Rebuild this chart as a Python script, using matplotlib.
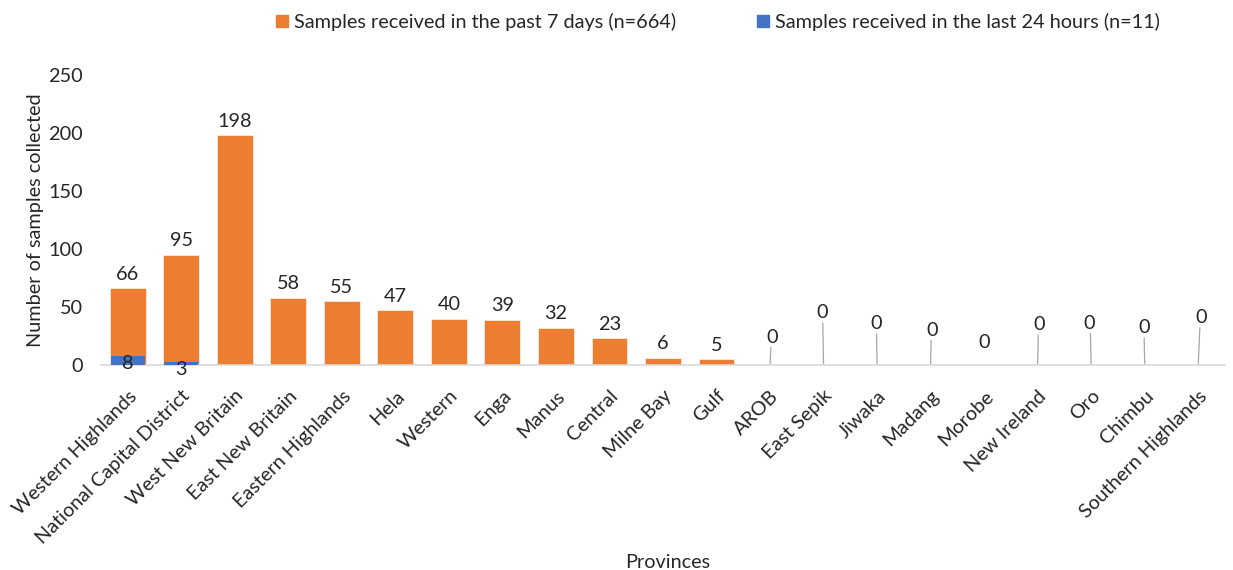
import matplotlib
matplotlib.use("Agg")
import matplotlib.pyplot as plt
from matplotlib.lines import Line2D
from matplotlib.transforms import ScaledTranslation

provinces = ["Western Highlands", "National Capital District", "West New Britain",
             "East New Britain", "Eastern Highlands", "Hela", "Western", "Enga",
             "Manus", "Central", "Milne Bay", "Gulf", "AROB", "East Sepik", "Jiwaka",
             "Madang", "Morobe", "New Ireland", "Oro", "Chimbu", "Southern Highlands"]
past_7_days = [66, 95, 198, 58, 55, 47, 40, 39, 32, 23, 6, 5, 0, 0, 0, 0, 0, 0, 0, 0, 0]
last_24_hours = [8, 3, 0, 0, 0, 0, 0, 0, 0, 0, 0, 0, 0, 0, 0, 0, 0, 0, 0, 0, 0]
legend_labels = ["Samples received in the past 7 days (n=664)",
                 "Samples received in the last 24 hours (n=11)"]

# layout of zero-value labels (Excel auto-placement): (dx in categories, label height in data units, leader?)
zero_label_layout = {12: (0.03, 24, True), 13: (-0.03, 45, True), 14: (-0.02, 35.5, True),
                     15: (0.02, 30, True), 16: (0.0, 19, False), 17: (0.02, 34.5, True),
                     18: (-0.03, 36, True), 19: (-0.02, 32, True), 20: (0.06, 41, True)}

ORANGE = "#ED7D31"
BLUE = "#4472C4"
TXT = "#262626"

plt.rcParams['font.family'] = ['Lato', 'DejaVu Sans']

fig = plt.figure(figsize=(12.33, 5.70), dpi=100)
ax = fig.add_axes([101/1233, 1-365/570, (1225-101)/1233, 290/570])

x = list(range(len(provinces)))
w = 0.67
ax.bar(x, past_7_days, width=w, color=ORANGE, edgecolor="white", linewidth=0.4, zorder=2)
ax.bar(x, last_24_hours, width=w * 0.95, color=BLUE, zorder=3)

fs = 14.3
for i, v in enumerate(past_7_days):
    if v > 0:
        ax.annotate(str(v), (i, v), xytext=(0, 4), textcoords="offset points",
                    ha="center", va="bottom", fontsize=fs, color=TXT)
    else:
        dx, h, leader = zero_label_layout.get(i, (0, 20, True))
        ax.text(i + dx, h, "0", ha="center", va="center", fontsize=fs, color=TXT, zorder=4)
        if leader:
            ax.plot([i, i + dx * 0.5], [0, h - 9], color="#A6A6A6", lw=0.9, zorder=1)

for i, v in enumerate(last_24_hours):
    if v > 0:
        ax.text(i, v + 0.5, str(v), ha="center", va="top", fontsize=fs, color=TXT, zorder=5)

ax.set_xlim(-0.5, len(provinces) - 0.5)
ax.set_ylim(0, 250)
ax.set_yticks(range(0, 251, 50))
ax.set_xticks(x)
ax.set_xticklabels(provinces, rotation=45, ha="right", va="top", rotation_mode="anchor",
                   fontsize=fs, color=TXT)
shift = ScaledTranslation(-3/100, -3/100, fig.dpi_scale_trans)
for lbl in ax.get_xticklabels():
    lbl.set_transform(lbl.get_transform() + shift)
ax.tick_params(axis="y", length=0, labelsize=fs, labelcolor=TXT, pad=13)
ax.tick_params(axis="x", length=0, pad=16)
for s in ["top", "right", "left"]:
    ax.spines[s].set_visible(False)
ax.spines["bottom"].set_color("#D9D9D9")
ax.spines["bottom"].set_linewidth(1.2)

ax.set_ylabel("Number of samples collected", fontsize=fs, color=TXT, labelpad=3)
fig.text(668/1233, 1-562/570, "Provinces", ha="center", va="center", fontsize=fs, color=TXT)

handles = [Line2D([], [], marker="s", linestyle="none", markersize=9, color=ORANGE),
           Line2D([], [], marker="s", linestyle="none", markersize=9, color=BLUE)]
fig.legend(handles, legend_labels, loc="center", bbox_to_anchor=(716/1233, 1-22/570),
           ncol=2, frameon=False, fontsize=fs, handletextpad=0.1, columnspacing=3.9,
           labelcolor=TXT, handlelength=1.0)

fig.savefig("out.png", dpi=100)
